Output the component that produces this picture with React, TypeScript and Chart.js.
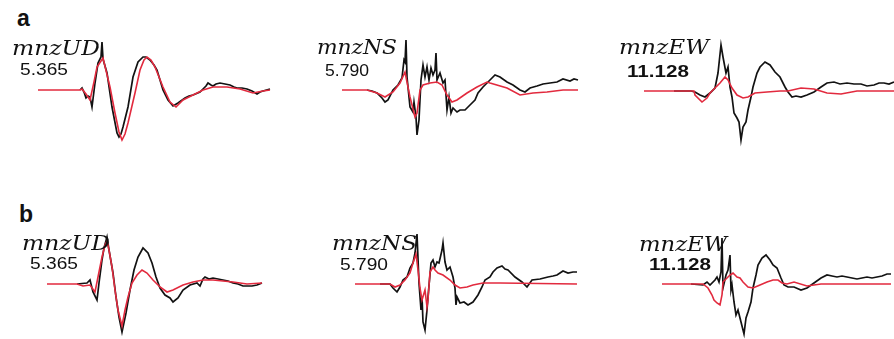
import React, { useEffect, useLayoutEffect, useRef } from "react";
import { Chart, registerables } from "chart.js";

Chart.register(...registerables);

// Seismogram data: [time (samples), amplitude (arbitrary units)]
// obs = observed (black), syn = synthetic (red)
const udA_syn = [[0,0],[42,0],[44,1],[48,-4],[52,-10],[56,8],[59,23],[65,32],[72,3],[77,-23],[81,-42],[84,-50],[87,-44],[90,-33],[97,-3],[102,20],[106,30],[109,33],[113,30],[117,23],[125,3],[132,-12],[138,-17],[145,-10],[155,-5],[165,0],[175,3],[189,3],[202,1],[215,-3],[225,-1],[232,0]];
const udA_obs = [[42,0],[44,2],[46,-2],[48,-8],[50,-6],[52,-7],[54,-17],[57,7],[60,27],[63,33],[64,48],[65,31],[69,17],[74,-17],[79,-43],[81,-47],[83,-44],[85,-37],[90,-17],[95,13],[100,28],[105,33],[108,33],[112,30],[116,25],[119,20],[122,10],[125,0],[130,-10],[135,-16],[140,-13],[147,-8],[151,-6],[155,-5],[162,-2],[165,1],[168,4],[170,7],[173,5],[175,4],[178,6],[182,7],[187,6],[192,5],[196,3],[199,2],[204,2],[209,1],[214,-1],[219,-4],[222,-2],[225,-1],[232,1]];

const nsA_syn = [[0,0],[25,0],[35,-3],[43,-7],[51,-2],[58,7],[63,18],[68,-7],[73,-27],[75,-23],[78,0],[81,5],[88,7],[95,8],[100,5],[105,-5],[110,-12],[115,-10],[125,-3],[135,3],[145,8],[148,7],[165,2],[178,-5],[191,-3],[205,-2],[221,0],[236,0]];
const nsA_obs = [[25,0],[30,-1],[35,-3],[40,-8],[43,-12],[46,-10],[51,0],[56,5],[60,12],[62,30],[63,28],[64,50],[65,13],[68,-17],[71,-22],[72,-12],[74,-27],[75,-45],[77,-30],[79,10],[81,25],[83,13],[85,23],[87,10],[89,22],[91,15],[93,20],[94,37],[95,10],[98,17],[101,7],[103,10],[105,-20],[107,-7],[109,-23],[111,-18],[115,-22],[118,-20],[123,-20],[128,-15],[133,-10],[136,-3],[141,3],[146,8],[148,10],[153,15],[158,13],[165,8],[171,5],[178,0],[183,-2],[188,2],[195,4],[201,6],[208,7],[215,8],[221,11],[228,9],[232,11],[236,10]];

const ewA_syn = [[0,0],[50,0],[51,-4],[58,-11],[63,-7],[66,-2],[71,3],[76,8],[81,14],[84,11],[88,3],[93,-4],[99,-7],[104,-6],[111,-2],[123,-1],[136,0],[144,0],[157,3],[170,2],[183,-2],[197,-3],[213,0],[250,0]];
const ewA_obs = [[30,0],[47,0],[51,-1],[56,-4],[61,-6],[66,-2],[71,3],[74,18],[77,46],[79,34],[82,18],[84,24],[86,4],[88,-6],[90,-22],[93,-27],[95,-31],[97,-49],[99,-36],[102,-31],[104,-19],[107,-6],[109,4],[113,18],[116,24],[121,29],[126,26],[131,19],[136,14],[141,4],[144,-1],[148,-6],[152,-5],[157,-6],[163,-4],[170,-1],[177,4],[183,8],[190,9],[196,7],[203,8],[210,7],[217,7],[223,5],[230,6],[235,8],[240,8],[245,7],[250,9]];

const udB_syn = [[0,0],[30,0],[36,-2],[43,-1],[48,-8],[51,7],[55,27],[58,39],[60,43],[62,34],[65,17],[68,-6],[71,-26],[75,-42],[78,-26],[81,-13],[85,1],[90,9],[95,14],[100,11],[106,4],[113,-3],[120,-8],[126,-6],[136,-1],[146,2],[156,4],[166,4],[186,2],[200,0],[215,1]];
const udB_obs = [[30,0],[40,1],[43,4],[46,-8],[50,-16],[52,1],[55,24],[57,36],[60,47],[62,34],[66,11],[69,-13],[72,-33],[75,-48],[79,-29],[83,-6],[87,14],[91,27],[96,36],[101,31],[105,21],[109,7],[113,-4],[118,-11],[123,-14],[126,-18],[131,-14],[136,-6],[143,-1],[150,1],[153,-2],[156,5],[158,7],[162,5],[166,6],[171,5],[176,4],[181,3],[186,1],[191,0],[196,-2],[205,-2],[210,-1],[215,1]];

const nsB_syn = [[0,0],[35,0],[40,-3],[45,-1],[50,4],[55,11],[58,21],[61,30],[63,14],[65,-4],[67,-16],[70,-6],[72,-23],[73,-16],[75,12],[78,17],[80,14],[83,11],[88,9],[95,4],[100,-1],[105,-4],[112,-3],[118,-1],[128,1],[145,1],[222,0]];
const nsB_obs = [[25,0],[35,0],[38,-4],[42,-8],[45,-3],[48,4],[52,7],[55,16],[58,21],[60,31],[62,50],[64,1],[66,-26],[67,-13],[68,-38],[70,-46],[72,-26],[73,-13],[76,21],[78,24],[80,17],[82,22],[84,21],[87,34],[88,41],[90,22],[92,14],[95,17],[98,7],[100,-4],[101,-21],[102,-13],[105,-19],[109,-18],[113,-21],[118,-18],[123,-11],[127,-3],[130,4],[135,7],[138,12],[142,16],[147,18],[150,15],[153,14],[160,7],[167,2],[172,-3],[177,4],[185,5],[193,7],[198,8],[202,9],[208,13],[213,11],[218,12],[222,12]];

const ewB_syn = [[0,0],[41,0],[46,-4],[50,-11],[52,-16],[55,-19],[58,-21],[60,-11],[61,2],[65,6],[68,9],[71,11],[75,7],[78,6],[81,2],[86,-3],[91,-4],[98,-1],[105,2],[111,4],[116,4],[120,1],[125,0],[132,2],[145,-2],[159,0],[229,0]];
const ewB_obs = [[29,0],[41,-1],[45,2],[48,-1],[53,4],[55,7],[57,2],[59,12],[60,46],[61,-4],[64,9],[66,14],[68,29],[69,-6],[70,-1],[72,-18],[74,-31],[76,-26],[79,-38],[82,-50],[84,-34],[86,-28],[89,-18],[91,-4],[94,9],[96,19],[100,26],[104,29],[108,24],[111,19],[115,16],[119,6],[122,-1],[126,-3],[132,-3],[139,-6],[145,-4],[152,1],[159,6],[165,9],[170,8],[175,7],[180,8],[185,7],[190,6],[195,5],[200,6],[205,7],[210,6],[215,7],[220,8],[225,10],[229,10]];

const stationNames = ["mnzUD", "mnzNS", "mnzEW"];
const maxAmplitudes = ["5.365", "5.790", "11.128"];
const rowLetters = ["a", "b"];

// Layout (page pixels)
const T_MAX = 260;
const A_MAX = 60;
const panels = [
  { obs: udA_obs, syn: udA_syn, left: 38, base: 90 },
  { obs: nsA_obs, syn: nsA_syn, left: 342, base: 90 },
  { obs: ewA_obs, syn: ewA_syn, left: 644, base: 91 },
  { obs: udB_obs, syn: udB_syn, left: 47, base: 284 },
  { obs: nsB_obs, syn: nsB_syn, left: 355, base: 284 },
  { obs: ewB_obs, syn: ewB_syn, left: 662, base: 284 },
];

const nameLayout = [
  { left: 12, top: 38, width: 88 },
  { left: 317, top: 37, width: 80 },
  { left: 619, top: 37, width: 90 },
  { left: 22, top: 233, width: 88 },
  { left: 332, top: 233, width: 85 },
  { left: 639, top: 234, width: 88 },
];
const ampLayout = [
  { left: 20, top: 60.6, width: 48, bold: false },
  { left: 325, top: 61.6, width: 44, bold: false },
  { left: 627, top: 62.6, width: 62, bold: true },
  { left: 30, top: 254.6, width: 48, bold: false },
  { left: 340, top: 255.6, width: 48, bold: false },
  { left: 649, top: 255.6, width: 62, bold: true },
];
const letterLayout = [
  { left: 17, top: 6.5 },
  { left: 19, top: 202.5 },
];

const RED = "rgb(226, 42, 62)";
const BLACK = "rgb(18, 18, 18)";

function Trace({ obs, syn, left, base }: any) {
  const ref = useRef<HTMLCanvasElement>(null);
  useEffect(() => {
    if (!ref.current) return;
    const chart = new Chart(ref.current, {
      type: "line",
      data: {
        datasets: [
          {
            data: syn.map(([x, y]: number[]) => ({ x, y })),
            borderColor: RED,
            borderWidth: 1.6,
            pointRadius: 0,
            tension: 0,
            fill: false,
            clip: false as any,
          },
          {
            data: obs.map(([x, y]: number[]) => ({ x, y })),
            borderColor: BLACK,
            borderWidth: 1.7,
            pointRadius: 0,
            tension: 0,
            fill: false,
            clip: false as any,
          },
        ],
      },
      options: {
        animation: false,
        responsive: false,
        maintainAspectRatio: false,
        events: [],
        layout: { padding: 0 },
        plugins: { legend: { display: false }, tooltip: { enabled: false } },
        scales: {
          x: { type: "linear", display: false, min: 0, max: T_MAX },
          y: { type: "linear", display: false, min: -A_MAX, max: A_MAX },
        },
      },
    });
    return () => chart.destroy();
  }, [obs, syn]);
  return (
    <canvas
      ref={ref}
      width={T_MAX}
      height={A_MAX * 2}
      style={{ position: "absolute", left, top: base - A_MAX, width: T_MAX, height: A_MAX * 2 }}
    />
  );
}

function Label({ text, left, top, size, width, family, italic, weight }: any) {
  const ref = useRef<HTMLSpanElement>(null);
  useLayoutEffect(() => {
    const el = ref.current;
    if (!el) return;
    el.style.transform = "none";
    const w = el.getBoundingClientRect().width;
    if (w > 0 && width) el.style.transform = `scaleX(${width / w})`;
  }, [text, width, size]);
  return (
    <span
      ref={ref}
      style={{
        position: "absolute",
        left,
        top,
        fontSize: size,
        lineHeight: 1,
        whiteSpace: "nowrap",
        transformOrigin: "0 0",
        fontFamily: family,
        fontStyle: italic ? "italic" : "normal",
        fontWeight: weight,
        color: "#111",
      }}
    >
      {text}
    </span>
  );
}

export default function App() {
  return (
    <div
      style={{
        position: "fixed",
        left: 0,
        top: 0,
        width: 894,
        height: 339,
        overflow: "hidden",
        background: "#fff",
      }}
    >
      {panels.map((p, i) => (
        <Trace key={i} {...p} />
      ))}
      {rowLetters.map((l, i) => (
        <Label key={"l" + i} text={l} {...letterLayout[i]} size={23} family="'Liberation Sans', Arial, sans-serif" weight={700} />
      ))}
      {nameLayout.map((n, i) => (
        <Label key={"n" + i} text={stationNames[i % 3]} left={n.left} top={n.top} width={n.width} size={20} family="'DejaVu Serif', serif" italic weight={400} />
      ))}
      {ampLayout.map((a, i) => (
        <Label key={"a" + i} text={maxAmplitudes[i % 3]} left={a.left} top={a.top} width={a.width} size={17} family="'Liberation Sans', Arial, sans-serif" weight={a.bold ? 700 : 400} />
      ))}
    </div>
  );
}
